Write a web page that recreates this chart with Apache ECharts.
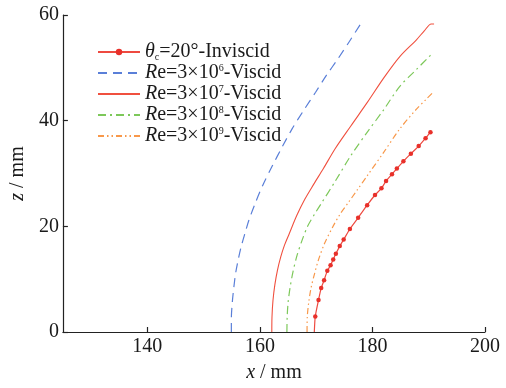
<!DOCTYPE html>
<html>
<head>
<meta charset="utf-8">
<script src="https://cdn.jsdelivr.net/npm/echarts@6/dist/echarts.min.js"></script>
<style>
  html, body { margin: 0; padding: 0; background: #fff; }
  #main { width: 506px; height: 388px; }
</style>
</head>
<body>
<div id="main"></div>
<script>
    // x / mm, z / mm
    var invX = [169.67, 169.84, 170.42, 170.89, 171.41, 171.98, 172.56, 173.03, 173.5, 174.19, 174.89, 175.99, 177.46, 179.06, 180.46, 181.6, 182.42, 183.47, 184.34, 185.5, 186.83, 188.22, 189.44, 190.31];
    var invZ = [0, 2.94, 6.06, 8.31, 9.81, 11.57, 12.62, 13.74, 14.81, 16.26, 17.49, 19.5, 21.62, 24.0, 25.93, 27.19, 28.56, 29.87, 30.94, 32.31, 33.75, 35.19, 36.69, 37.82];

    var re6X = [154.93, 154.93, 155.10, 155.37, 155.71, 156.15, 156.67, 157.37, 158.06, 159.11, 160.50, 162.24, 163.98, 165.72, 167.81, 169.90, 171.81, 173.90, 175.99, 177.90];
    var re6Z = [0, 2.44, 5.63, 8.44, 11.25, 13.69, 16.13, 18.75, 21.19, 24.19, 27.75, 31.5, 35.06, 38.44, 42.0, 45.38, 48.56, 51.75, 55.13, 58.31];

    var re7X = [162.12, 162.15, 162.33, 162.67, 163.11, 163.72, 164.33, 165.20, 166.59, 167.98, 169.55, 171.29, 173.37, 176.16, 179.12, 182.08, 184.86, 187.82, 189.21, 190.43, 190.95];
    var re7Z = [0, 2.81, 6.0, 9.0, 11.63, 14.25, 16.31, 18.56, 22.13, 25.13, 27.94, 30.94, 34.69, 39.0, 43.5, 48.19, 52.13, 55.31, 57.0, 58.31, 58.31];

    var re8X = [164.80, 164.85, 165.02, 165.37, 165.89, 166.59, 167.46, 168.50, 169.72, 170.94, 173.37, 176.16, 179.12, 182.08, 184.86, 187.82, 190.08, 190.60];
    var re8Z = [0, 2.81, 5.63, 8.44, 11.44, 14.44, 17.25, 20.06, 22.31, 24.38, 28.5, 33.38, 37.88, 42.19, 46.5, 49.69, 52.13, 52.69];

    var re9X = [168.38, 168.42, 168.68, 169.11, 169.72, 170.42, 171.46, 172.85, 174.25, 175.64, 177.38, 179.12, 182.08, 184.86, 187.82, 189.56, 190.60];
    var re9Z = [0, 2.81, 5.63, 8.44, 11.06, 13.69, 16.69, 19.69, 22.31, 24.38, 27.0, 29.63, 34.13, 38.44, 42.19, 44.06, 45.19];

    var xTicks = [140, 160, 180, 200];

    var names = ['inv', 're6', 're7', 're8', 're9'];
    var labels = {
        inv: '{it|θ}{sub|c}=20°-Inviscid',
        re6: '{it|R}e=3×10{sup|6}-Viscid',
        re7: '{it|R}e=3×10{sup|7}-Viscid',
        re8: '{it|R}e=3×10{sup|8}-Viscid',
        re9: '{it|R}e=3×10{sup|9}-Viscid'
    };

    function pairs(xs, zs) {
        var out = [];
        for (var i = 0; i < xs.length; i++) {
            out.push([xs[i], zs[i]]);
        }
        return out;
    }

    var invData = pairs(invX, invZ);
    invData[0] = { value: invData[0], symbol: 'none' };

    var serif = 'Liberation Serif';
    var ink = '#1a1a1a';
    var myChart = echarts.init(document.getElementById('main'));

    var option = {
        animation: false,
        backgroundColor: '#fff',
        textStyle: { fontFamily: serif },
        grid: { left: 54, right: 21, top: 15, bottom: 53 },
        legend: {
            data: names.map(function (n, i) {
                // only the inviscid curve shows markers
                return i === 0 ? { name: n } : { name: n, itemStyle: { opacity: 0 } };
            }),
            orient: 'vertical',
            left: 92,
            top: 37,
            itemWidth: 42,
            itemHeight: 8,
            itemGap: 1,
            itemTextGap: 6,
            formatter: function (n) { return labels[n]; },
            textStyle: {
                fontFamily: serif,
                fontSize: 20,
                color: ink,
                lineHeight: 20,
                rich: {
                    it: { fontFamily: serif, fontSize: 20, fontStyle: 'italic', color: ink },
                    sup: { fontFamily: serif, fontSize: 10, verticalAlign: 'top', color: ink },
                    sub: { fontFamily: serif, fontSize: 10, verticalAlign: 'bottom', color: ink }
                }
            }
        },
        xAxis: {
            type: 'value',
            min: 125,
            max: 200,
            interval: 5,
            name: '{it|x} / mm',
            nameLocation: 'middle',
            nameGap: 31,
            nameTextStyle: {
                fontFamily: serif, fontSize: 20, color: ink,
                rich: { it: { fontFamily: serif, fontSize: 20, fontStyle: 'italic', color: ink } }
            },
            axisLine: { lineStyle: { color: '#222', width: 1.2 } },
            axisTick: {
                inside: true, length: 5, lineStyle: { color: '#222', width: 1.2 },
                customValues: xTicks
            },
            axisLabel: {
                fontFamily: serif, fontSize: 20, color: ink, margin: 5,
                customValues: xTicks
            },
            splitLine: { show: false }
        },
        yAxis: {
            type: 'value',
            min: 0,
            max: 60,
            interval: 20,
            name: '{it|z} / mm',
            nameLocation: 'middle',
            nameGap: 33,
            nameTextStyle: {
                fontFamily: serif, fontSize: 20, color: ink,
                rich: { it: { fontFamily: serif, fontSize: 20, fontStyle: 'italic', color: ink } }
            },
            axisLine: { show: true, lineStyle: { color: '#222', width: 1.2 } },
            axisTick: { inside: true, length: 5, lineStyle: { color: '#222', width: 1.2 } },
            axisLabel: { fontFamily: serif, fontSize: 20, color: ink, margin: 4 },
            splitLine: { show: false }
        },
        series: [
            {
                name: 'inv',
                type: 'line',
                data: invData,
                smooth: 0.2,
                symbol: 'circle',
                symbolSize: 4.5,
                showAllSymbol: true,
                itemStyle: { color: '#e8302a' },
                lineStyle: { color: '#ee4a40', width: 1.2 }
            },
            {
                name: 're6',
                type: 'line',
                data: pairs(re6X, re6Z),
                smooth: 0.3,
                symbol: 'none',
                itemStyle: { color: '#5a7fd8' },
                lineStyle: { color: '#5a7fd8', width: 1.2, type: [9, 6] }
            },
            {
                name: 're7',
                type: 'line',
                data: pairs(re7X, re7Z),
                smooth: 0.3,
                symbol: 'none',
                itemStyle: { color: '#f0503f' },
                lineStyle: { color: '#f0503f', width: 1.1 }
            },
            {
                name: 're8',
                type: 'line',
                data: pairs(re8X, re8Z),
                smooth: 0.3,
                symbol: 'none',
                itemStyle: { color: '#7dc85a' },
                lineStyle: { color: '#7dc85a', width: 1.2, type: [8, 4, 2, 4] }
            },
            {
                name: 're9',
                type: 'line',
                data: pairs(re9X, re9Z),
                smooth: 0.3,
                symbol: 'none',
                itemStyle: { color: '#f8984a' },
                lineStyle: { color: '#f8984a', width: 1.2, type: [6, 3, 1.5, 3, 1.5, 3] }
            }
        ]
    };

    myChart.setOption(option);
</script>
</body>
</html>
